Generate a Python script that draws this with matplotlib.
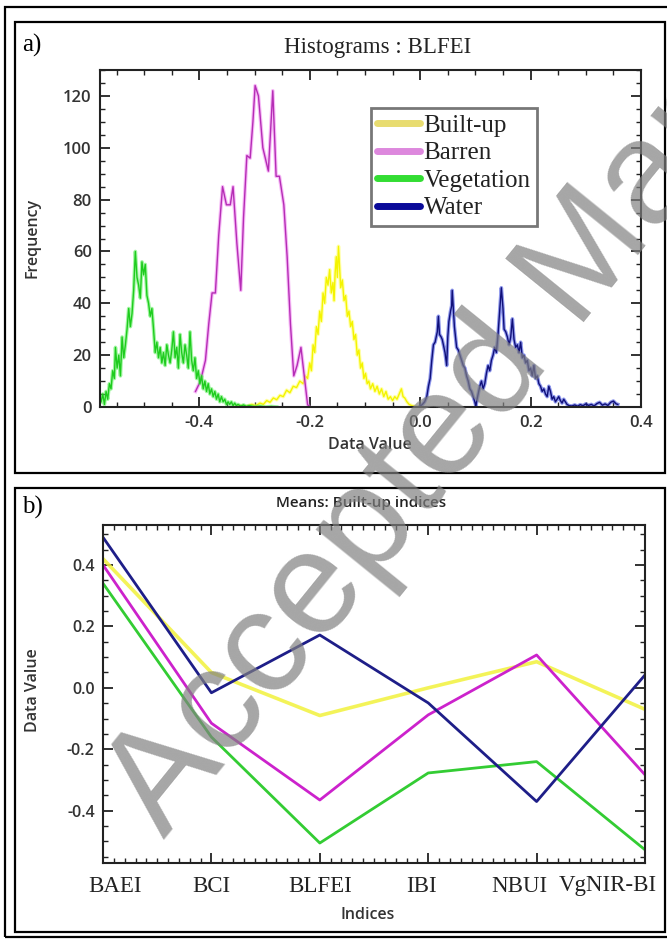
import matplotlib
matplotlib.use("Agg")
import matplotlib.pyplot as plt
from matplotlib.lines import Line2D
from matplotlib.patches import Rectangle
from matplotlib.ticker import MultipleLocator, FixedLocator
import matplotlib.transforms as mtransforms

# ---------------- data: panel a (histograms of BLFEI) ----------------
veg_x = [-0.578, -0.575, -0.572, -0.569, -0.566, -0.563, -0.560, -0.557, -0.554, -0.552,
         -0.549, -0.546, -0.543, -0.540, -0.537, -0.534, -0.531, -0.528, -0.525, -0.522,
         -0.519, -0.516, -0.513, -0.510, -0.507, -0.504, -0.501, -0.498, -0.495, -0.492,
         -0.489, -0.486, -0.483, -0.480, -0.477, -0.474, -0.471, -0.468, -0.465, -0.462,
         -0.459, -0.456, -0.453, -0.450, -0.447, -0.444, -0.441, -0.438, -0.435, -0.432,
         -0.429, -0.426, -0.423, -0.420, -0.417, -0.414, -0.411, -0.408, -0.405, -0.402,
         -0.399, -0.396, -0.393, -0.390, -0.387, -0.384, -0.381, -0.378, -0.375, -0.372,
         -0.369, -0.366, -0.363, -0.360, -0.357, -0.354, -0.351, -0.348, -0.345, -0.342,
         -0.339, -0.336, -0.333, -0.330, -0.325, -0.320, -0.315, -0.310, -0.300, -0.290,
         -0.280, -0.270, -0.260]
veg_y = [2, 5, 1, 6, 3, 9, 7, 14, 11, 23,
         15, 20, 12, 27, 19, 24, 30, 38, 31, 36,
         45, 60, 50, 47, 42, 56, 51, 55, 43, 40,
         35, 38, 30, 21, 25, 19, 23, 17, 21, 16,
         24, 20, 17, 22, 29, 19, 23, 15, 28, 21,
         17, 24, 20, 15, 29, 18, 14, 19, 11, 14,
         9, 12, 7, 10, 6, 9, 5, 7, 4, 6,
         3, 5, 2, 4, 2, 3, 1, 2, 1, 2,
         0.5, 1.5, 0.5, 1, 0.3, 0.8, 0.2, 0.5, 0.1, 0.3,
         0, 0.2, 0]

bar_x = [-0.407, -0.398, -0.389, -0.383, -0.377, -0.371, -0.365, -0.358, -0.351, -0.344,
         -0.339, -0.332, -0.325, -0.320, -0.314, -0.308, -0.303, -0.299, -0.293, -0.285,
         -0.275, -0.267, -0.261, -0.255, -0.247, -0.241, -0.235, -0.229, -0.223, -0.216,
         -0.210, -0.204, -0.201]
bar_y = [6, 10, 18, 32, 44, 44, 66, 85, 78, 78,
         85, 63, 45, 73, 97, 96, 110, 124, 120, 100,
         91, 122, 89, 89, 78, 58, 32, 12, 16, 23,
         12, 1, 0]

bu_x = [-0.335, -0.325, -0.315, -0.305, -0.298, -0.290, -0.284, -0.278, -0.272, -0.266,
        -0.260, -0.254, -0.248, -0.242, -0.236, -0.230, -0.224, -0.218, -0.212, -0.208,
        -0.204, -0.200, -0.197, -0.194, -0.191, -0.188, -0.185, -0.182, -0.179, -0.176,
        -0.173, -0.170, -0.167, -0.164, -0.161, -0.158, -0.156, -0.154, -0.152, -0.150,
        -0.148, -0.146, -0.144, -0.141, -0.138, -0.135, -0.132, -0.129, -0.126, -0.123,
        -0.120, -0.117, -0.114, -0.111, -0.108, -0.105, -0.102, -0.099, -0.096, -0.093,
        -0.090, -0.086, -0.082, -0.078, -0.074, -0.070, -0.066, -0.062, -0.058, -0.054,
        -0.050, -0.046, -0.042, -0.038, -0.034, -0.031, -0.028, -0.024, -0.020, -0.015,
        -0.010, -0.005]
bu_y = [0, 0.5, 0.2, 1.0, 0.5, 1.5, 1.0, 2.5, 1.8, 3.5,
        2.8, 4.5, 4.0, 6.5, 5.5, 8.0, 7.5, 10, 9, 12,
        11, 17, 14, 24, 21, 31, 28, 37, 33, 44,
        40, 50, 47, 53, 44, 48, 41, 52, 58, 50,
        62, 54, 46, 49, 41, 43, 35, 37, 31, 33,
        26, 28, 20, 22, 15, 17, 11, 13, 9, 10,
        7, 9, 6, 8, 5, 7, 4, 6, 3, 4,
        2.5, 4, 3, 5, 7, 4, 3.5, 2, 1, 0.5,
        0.2, 0]

wat_x = [0.000, 0.004, 0.008, 0.012, 0.015, 0.018, 0.021, 0.024, 0.027, 0.029,
         0.031, 0.033, 0.035, 0.038, 0.040, 0.042, 0.045, 0.048, 0.050, 0.052,
         0.055, 0.057, 0.058, 0.060, 0.062, 0.064, 0.066, 0.069, 0.072, 0.075,
         0.078, 0.081, 0.084, 0.087, 0.090, 0.093, 0.096, 0.099, 0.101, 0.103,
         0.105, 0.108, 0.111, 0.114, 0.117, 0.120, 0.123, 0.126, 0.129, 0.132,
         0.135, 0.138, 0.141, 0.144, 0.147, 0.150, 0.152, 0.155, 0.158, 0.161,
         0.164, 0.167, 0.170, 0.173, 0.176, 0.179, 0.182, 0.185, 0.188, 0.191,
         0.194, 0.197, 0.200, 0.203, 0.206, 0.209, 0.212, 0.215, 0.218, 0.221,
         0.224, 0.227, 0.230, 0.233, 0.236, 0.239, 0.242, 0.245, 0.248, 0.251,
         0.254, 0.257, 0.260, 0.263, 0.266, 0.270, 0.275, 0.280, 0.285, 0.290,
         0.295, 0.300, 0.305, 0.310, 0.315, 0.320, 0.325, 0.330, 0.335, 0.340,
         0.345, 0.350, 0.355, 0.358]
wat_y = [0.3, 1, 2, 4, 8, 11, 18, 24, 25, 27,
         29, 35, 28, 27, 26, 24, 21, 16, 27, 33,
         37, 39, 45, 38, 31, 27, 23, 22, 20, 18,
         16, 15, 12, 10, 7, 6, 4, 2, 0.4, 3,
         5, 8, 10, 7, 9, 13, 16, 14, 18, 20,
         23, 21, 28, 37, 46, 38, 30, 29, 27, 24,
         27, 34, 26, 23, 24, 21, 25, 19, 20, 17,
         18, 14, 15, 12, 16, 11, 12, 9, 8, 6,
         7, 5, 4, 8, 6, 3, 4, 2, 3, 4,
         2.5, 1.5, 3, 2, 1, 0.5, 0.4, 0.8, 0.3, 0.9,
         0.5, 1.2, 0.6, 1.0, 0.4, 1.3, 1.8, 0.7, 1.2, 0.6,
         1.8, 2.3, 1.2, 1.0]

hist_labels = ["Built-up", "Barren", "Vegetation", "Water"]

# ---------------- data: panel b (means of built-up indices) ----------------
indices = ["BAEI", "BCI", "BLFEI", "IBI", "NBUI", "VgNIR-BI"]
mean_builtup = [0.42, 0.05, -0.09, 0.00, 0.085, -0.07]
mean_barren = [0.40, -0.115, -0.365, -0.088, 0.107, -0.283]
mean_vegetation = [0.34, -0.16, -0.505, -0.277, -0.24, -0.527]
mean_water = [0.49, -0.016, 0.172, -0.049, -0.37, 0.042]

# ---------------- figure ----------------
W, H = 667, 939
fig = plt.figure(figsize=(W / 100, H / 100), dpi=100)
fig.patch.set_facecolor("white")

def fx(px):
    return px / W

def fy(py):
    return 1 - py / H

# frames
def frame(x0, y0, x1, y1, lw=1.6):
    fig.add_artist(Rectangle((fx(x0), fy(y1)), fx(x1) - fx(x0), fy(y0) - fy(y1),
                             transform=fig.transFigure, fill=False, edgecolor="black",
                             linewidth=lw, zorder=0))

frame(5, 7, 680, 937)
frame(15, 22, 665, 473)
frame(15, 488, 665, 932)

lab_color = "#333333"

def style_axes(ax):
    for s in ax.spines.values():
        s.set_linewidth(1.5)
        s.set_color("#222222")
    ax.tick_params(which="both", direction="in", top=True, right=True,
                   color="#222222", labelcolor=lab_color)
    ax.tick_params(which="major", length=7, width=1.3, labelsize=12, pad=6)
    ax.tick_params(which="minor", length=3.5, width=1.0)

# ---------------- panel a ----------------
ax1 = fig.add_axes([fx(100), fy(407), fx(641) - fx(100), fy(70) - fy(407)])
series = [
    (bu_x, bu_y, "#F4F400", "#FFFF66"),
    (bar_x, bar_y, "#B52DB5", "#F080F0"),
    (veg_x, veg_y, "#1ECC1E", "#55EE55"),
    (wat_x, wat_y, "#10107A", "#3344DD"),
]
for xs, ys, core, glow in series:
    ax1.plot(xs, ys, color=glow, lw=2.6, alpha=0.55, solid_joinstyle="round")
    ax1.plot(xs, ys, color=core, lw=1.0)
ax1.set_xlim(-0.58, 0.4)
ax1.set_ylim(0, 130)
ax1.xaxis.set_major_locator(FixedLocator([-0.4, -0.2, 0.0, 0.2, 0.4]))
ax1.xaxis.set_minor_locator(MultipleLocator(0.05))
ax1.yaxis.set_major_locator(MultipleLocator(20))
ax1.yaxis.set_minor_locator(MultipleLocator(5))
ax1.set_xticklabels(["-0.4", "-0.2", "0.0", "0.2", "0.4"])
style_axes(ax1)
for lab in ax1.get_xticklabels() + ax1.get_yticklabels():
    lab.set_fontfamily("Open Sans")
    lab.set_fontweight("semibold")

fig.text(fx(22), fy(45), "a)", family="Liberation Serif", size=18, va="center", ha="left")
fig.text(fx(378), fy(47), "Histograms : BLFEI", family="Liberation Serif", size=16.5,
         va="center", ha="center", color="#222222")
fig.text(fx(33), fy(238), "Frequency", family="Open Sans", weight="semibold", size=11.5,
         rotation=90, va="center", ha="center", color=lab_color)
fig.text(fx(370), fy(445), "Data Value", family="Open Sans", weight="semibold", size=11.5,
         va="center", ha="center", color=lab_color)

leg_colors = ["#E8DC70", "#DD88DD", "#33DD33", "#0A0A99"]
handles = [Line2D([0], [0], color=c, lw=5, solid_capstyle="round") for c in leg_colors]
leg = ax1.legend(handles, hist_labels, loc="upper left",
                 bbox_to_anchor=(fx(371), fy(108)), bbox_transform=fig.transFigure,
                 prop=dict(family="Liberation Serif", size=18), frameon=True,
                 fancybox=False, handlelength=1.7, handletextpad=0.15,
                 labelspacing=0.2, borderpad=0.25, borderaxespad=0)
leg.get_frame().set_edgecolor("#555555")
leg.get_frame().set_linewidth(2)
for t in leg.get_texts():
    t.set_color("#222222")

# ---------------- panel b ----------------
ax2 = fig.add_axes([fx(103), fy(863), fx(645) - fx(103), fy(525) - fy(863)])
xpos = list(range(len(indices)))
ax2.plot(xpos, mean_builtup, color="#F2F23C", lw=2.6, alpha=0.85)
ax2.plot(xpos, mean_vegetation, color="#33CC33", lw=2.0)
ax2.plot(xpos, mean_barren, color="#CC22CC", lw=2.0)
ax2.plot(xpos, mean_water, color="#1E1E88", lw=2.0)
ax2.set_xlim(0, 5)
ax2.set_ylim(-0.57, 0.53)
ax2.set_xticks(xpos)
ax2.set_xticklabels(indices)
ax2.xaxis.set_minor_locator(MultipleLocator(0.1))
ax2.yaxis.set_major_locator(FixedLocator([-0.4, -0.2, 0.0, 0.2, 0.4]))
ax2.set_yticklabels(["-0.4", "-0.2", "0.0", "0.2", "0.4"])
ax2.yaxis.set_minor_locator(MultipleLocator(0.05))
style_axes(ax2)
ax2.tick_params(axis="x", which="major", pad=9)
for lab in ax2.get_yticklabels():
    lab.set_fontfamily("Open Sans")
    lab.set_fontweight("semibold")
    lab.set_fontsize(11.5)
offsets_px = [12, 0, 0, -7, -17, -37]
for lab, off in zip(ax2.get_xticklabels(), offsets_px):
    lab.set_fontfamily("Liberation Serif")
    lab.set_fontsize(16.5)
    lab.set_color("#222222")
    lab.set_transform(lab.get_transform() +
                      mtransforms.ScaledTranslation(off / 100, 0, fig.dpi_scale_trans))

fig.text(fx(22), fy(507), "b)", family="Liberation Serif", size=18, va="center", ha="left")
fig.text(fx(361), fy(503), "Means: Built-up indices", family="Open Sans", weight="semibold",
         size=11, va="center", ha="center", color="#222222")
fig.text(fx(33), fy(690), "Data Value", family="Open Sans", weight="semibold", size=11.5,
         rotation=90, va="center", ha="center", color=lab_color)
fig.text(fx(368), fy(915), "Indices", family="Open Sans", weight="semibold", size=11.5,
         va="center", ha="center", color=lab_color)

# watermark
fig.text(fx(165), fy(840), "Accepted Manuscript", family="Liberation Sans", size=106,
         rotation=51, rotation_mode="anchor", ha="left", va="baseline",
         color="#808080", alpha=0.7, zorder=10)

fig.savefig("out.png", dpi=100, facecolor="white")
